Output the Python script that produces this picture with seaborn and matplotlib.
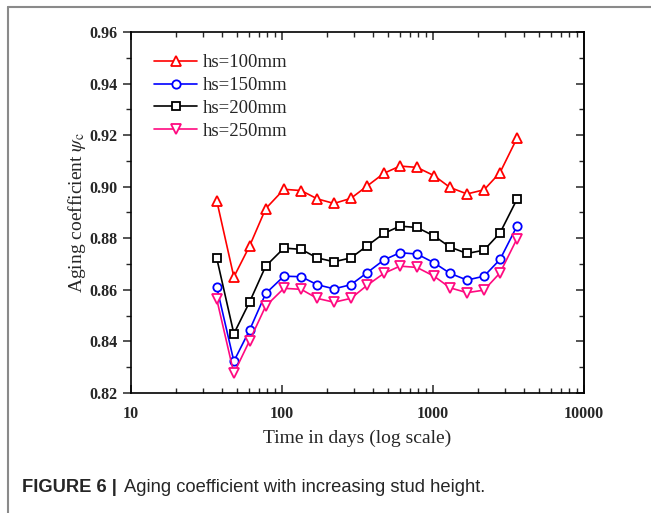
import numpy as np
import pandas as pd
import matplotlib
matplotlib.use("Agg")
import matplotlib.pyplot as plt
import seaborn as sns
from matplotlib.ticker import LogLocator, MultipleLocator, FixedLocator, NullFormatter

days = [37, 48, 61, 78, 103, 134, 171, 221, 286, 365, 473, 604, 783, 1016, 1297, 1679, 2178, 2780, 3597]
hs100 = [0.8945, 0.8650, 0.8770, 0.8915, 0.8990, 0.8985, 0.8953, 0.8935, 0.8955, 0.9002,
         0.9052, 0.9080, 0.9075, 0.9043, 0.8997, 0.8972, 0.8988, 0.9055, 0.9188]
hs150 = [0.8610, 0.8323, 0.8444, 0.8586, 0.8653, 0.8651, 0.8620, 0.8604, 0.8620, 0.8666,
         0.8716, 0.8744, 0.8739, 0.8705, 0.8664, 0.8638, 0.8653, 0.8718, 0.8847]
hs200 = [0.8722, 0.8430, 0.8553, 0.8692, 0.8762, 0.8757, 0.8724, 0.8709, 0.8724, 0.8770,
         0.8819, 0.8847, 0.8842, 0.8809, 0.8766, 0.8741, 0.8754, 0.8821, 0.8951]
hs250 = [0.8563, 0.8276, 0.8403, 0.8537, 0.8606, 0.8602, 0.8567, 0.8552, 0.8567, 0.8617,
         0.8664, 0.8692, 0.8687, 0.8653, 0.8608, 0.8589, 0.8599, 0.8666, 0.8798]
labels = ["hs=100mm", "hs=150mm", "hs=200mm", "hs=250mm"]
x_ticks = [10, 100, 1000, 10000]
x_ticklabels = ["10", "100", "1000", "10000"]
y_ticks = [0.82, 0.84, 0.86, 0.88, 0.90, 0.92, 0.94, 0.96]

sns.set_style("ticks")
plt.rcParams["font.family"] = ["Liberation Serif", "DejaVu Serif"]
plt.rcParams["mathtext.fontset"] = "stix"

fig = plt.figure(figsize=(6.51, 5.13), dpi=100)
ax = fig.add_axes([131/651, 1-393/513, (584-131)/651, (393-32)/513])

series = [hs100, hs150, hs200, hs250]
colors = ["#FF0000", "#0000FF", "#000000", "#FF0A80"]
markers = ["^", "o", "s", "v"]
msizes = [6.5, 6.0, 5.5, 6.5]
for vals, lab, c, m, ms in zip(series, labels, colors, markers, msizes):
    df = pd.DataFrame({"days": days, "psi": vals})
    sns.lineplot(data=df, x="days", y="psi", ax=ax, color=c, marker=m, label=lab,
                 markerfacecolor="white", markeredgecolor=c, markeredgewidth=1.3,
                 markersize=ms, linewidth=1.2)

ax.set_xscale("log")
ax.set_xlim(10, 10000)
ax.set_ylim(0.82, 0.96)
ax.xaxis.set_major_locator(FixedLocator(x_ticks))
ax.set_xticklabels(x_ticklabels)
ax.xaxis.set_minor_locator(LogLocator(base=10, subs=np.arange(2, 10)))
ax.xaxis.set_minor_formatter(NullFormatter())
ax.yaxis.set_major_locator(FixedLocator(y_ticks))
ax.set_yticklabels([f"{v:.2f}" for v in y_ticks])
ax.yaxis.set_minor_locator(MultipleLocator(0.01))

for s in ax.spines.values():
    s.set_linewidth(1.2)
    s.set_color("black")
    s.set_visible(True)

ax.tick_params(axis="x", which="both", direction="in", top=True, bottom=True)
ax.tick_params(axis="x", which="major", length=6, width=1.1)
ax.tick_params(axis="x", which="minor", length=3.5, width=1.0)
ax.tick_params(axis="y", which="both", direction="out", left=True, right=False)
ax.tick_params(axis="y", which="major", length=6, width=1.1)
ax.tick_params(axis="y", which="minor", length=3.5, width=1.0)
for t in ax.get_xticklabels() + ax.get_yticklabels():
    t.set_fontweight("bold")
    t.set_fontsize(11.5)
ax.tick_params(axis="x", pad=9)

# right-side inward ticks
sec = ax.secondary_yaxis("right")
sec.yaxis.set_major_locator(FixedLocator(y_ticks))
sec.yaxis.set_minor_locator(MultipleLocator(0.01))
sec.tick_params(which="both", direction="in", labelright=False)
sec.tick_params(which="major", length=6, width=1.1)
sec.tick_params(which="minor", length=3.5, width=1.0)
sec.spines["right"].set_linewidth(1.2)

ax.set_xlabel("Time in days (log scale)", fontsize=14, labelpad=6)
ax.set_ylabel(r"Aging coefficient $\psi_{\rm c}$", fontsize=14, labelpad=1)

leg = ax.legend(loc="upper left", frameon=False, fontsize=13.5, handlelength=2.3,
                handletextpad=0.3, labelspacing=0.3, borderaxespad=0.6,
                bbox_to_anchor=(0.01, 0.99))

# figure border lines and caption
fig.add_artist(plt.Line2D([8/651, 8/651], [0, 1-7/513], color="#8a8a8a", lw=1.5, transform=fig.transFigure))
fig.add_artist(plt.Line2D([8/651, 1], [1-7/513, 1-7/513], color="#8a8a8a", lw=1.5, transform=fig.transFigure))

fig.text(22/651, 1-487/513, "FIGURE 6 |", fontsize=13.2, fontweight="bold",
         family=["Liberation Sans", "DejaVu Sans"], va="center", ha="left")
fig.text(124/651, 1-487/513, "Aging coefficient with increasing stud height.", fontsize=13.2,
         family=["Liberation Sans", "DejaVu Sans"], va="center", ha="left")

fig.savefig("out.png", dpi=100)
